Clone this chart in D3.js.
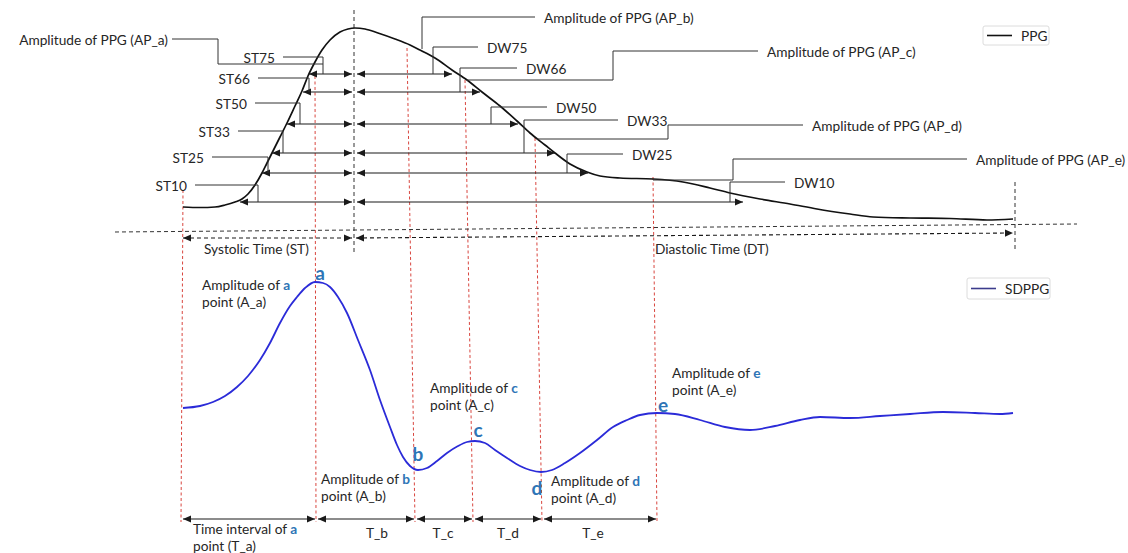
<!DOCTYPE html>
<html><head><meta charset="utf-8">
<script src="https://cdn.jsdelivr.net/npm/d3@7"></script>
<style>
body{margin:0;background:#fff}
svg{display:block}
text{font-family:Lato,"Open Sans",sans-serif;font-size:13.7px;fill:#262626}
</style>
</head><body>
<svg id="c" width="1128" height="553"></svg>
<script>
// ---------- DATA ----------
// PPG waveform (time in s, amplitude in a.u.)
const ppgTime = [0,0.017,0.032,0.042,0.052,0.059,0.065,0.072,0.079,0.084,0.089,0.097,0.104,0.112,0.119,0.125,0.132,0.139,0.147,0.157,0.165,0.172,0.182,0.195,0.212,0.227,0.237,0.252,0.269,0.284,0.299,0.317,0.334,0.347,0.362,0.372,0.387,0.404,0.417,0.437,0.470,0.500,0.527,0.547,0.577,0.607,0.634,0.667,0.690,0.727,0.767,0.804,0.830];
const ppgAmp  = [0.13,0.125,0.13,0.15,0.18,0.21,0.26,0.35,0.47,0.57,0.67,0.83,0.97,1.14,1.29,1.44,1.58,1.70,1.80,1.88,1.91,1.92,1.91,1.87,1.81,1.75,1.70,1.62,1.50,1.40,1.28,1.14,0.99,0.87,0.75,0.67,0.56,0.48,0.44,0.42,0.41,0.38,0.32,0.27,0.21,0.16,0.11,0.06,0.03,0.02,0.015,0.00,0.01];
// Second derivative of PPG (SDPPG)
const sdTime = [0,0.017,0.030,0.042,0.054,0.065,0.077,0.087,0.097,0.107,0.114,0.122,0.132,0.140,0.147,0.155,0.164,0.175,0.187,0.197,0.207,0.214,0.220,0.227,0.235,0.244,0.254,0.264,0.275,0.284,0.292,0.302,0.312,0.324,0.337,0.347,0.358,0.369,0.382,0.397,0.414,0.430,0.444,0.457,0.474,0.492,0.517,0.542,0.567,0.592,0.617,0.637,0.667,0.697,0.727,0.760,0.792,0.817,0.830];
const sdAmp  = [-0.28,-0.26,-0.22,-0.16,-0.07,0.04,0.20,0.37,0.57,0.74,0.83,0.92,0.98,0.97,0.93,0.83,0.67,0.40,0.10,-0.20,-0.47,-0.65,-0.77,-0.86,-0.90,-0.88,-0.81,-0.73,-0.66,-0.62,-0.61,-0.63,-0.70,-0.78,-0.86,-0.90,-0.92,-0.90,-0.83,-0.73,-0.60,-0.47,-0.40,-0.35,-0.33,-0.34,-0.40,-0.47,-0.50,-0.46,-0.40,-0.37,-0.38,-0.36,-0.34,-0.32,-0.33,-0.34,-0.33];
// Width levels
const stLabels = ["ST75","ST66","ST50","ST33","ST25","ST10"];
const dwLabels = ["DW75","DW66","DW50","DW33","DW25","DW10"];
const levelAmp = [1.46,1.28,0.96,0.67,0.47,0.18];
const stStart  = [0.126,0.120,0.104,0.089,0.079,0.057];
const dwEnd    = [0.269,0.297,0.335,0.372,0.405,0.560];
const peakTime = 0.171;
const endTime  = 0.832;
// SDPPG fiducial points
const fidNames = ["a","b","c","d","e"];
const fidTime  = [0.132,0.235,0.292,0.358,0.474];
const fidAmp   = [0.98,-0.90,-0.61,-0.92,-0.33];
const intervalNames = ["T_a","T_b","T_c","T_d","T_e"];
// red guide lines (start + fiducials), top / bottom times
const guideTop    = [0.000,0.132,0.224,0.282,0.352,0.470];
const guideBottom = [-0.002,0.133,0.232,0.290,0.359,0.474];
const guideTopAmp = [0.30,1.44,1.72,1.40,0.82,0.43];
const apNames = ["AP_a","AP_b","AP_c","AP_d","AP_e"];

// ---------- SCALES ----------
const svg = d3.select("#c");
const x  = d3.scaleLinear().domain([0,0.83]).range([183,1013]);
const yP = d3.scaleLinear().domain([0,1.92]).range([220,28]);
const yS = d3.scaleLinear().domain([-1,1]).range([480,280]);

// ---------- HELPERS ----------
const INK = "#1a1a1a";
function head(g,x1,y1,x2,y2){
  const ang=Math.atan2(y2-y1,x2-x1),L=8,W=3.6;
  const bx=x2-L*Math.cos(ang),by=y2-L*Math.sin(ang);
  const px=-Math.sin(ang)*W,py=Math.cos(ang)*W;
  g.append("path").attr("d",`M${x2},${y2}L${bx+px},${by+py}L${bx-px},${by-py}Z`).attr("fill",INK);
}
function arrow(g,x1,y1,x2,y2,dash,h1=true,h2=true){
  g.append("line").attr("x1",x1).attr("y1",y1).attr("x2",x2).attr("y2",y2)
   .attr("stroke",INK).attr("stroke-width",1.1).attr("stroke-dasharray",dash||null);
  if(h1) head(g,x2,y2,x1,y1);
  if(h2) head(g,x1,y1,x2,y2);
}
function poly(g,pts,col){
  g.append("path").attr("d",d3.line()(pts)).attr("fill","none").attr("stroke",col||"#333").attr("stroke-width",1);
}
function txt(g,px,py,s,anchor){
  return g.append("text").attr("x",px).attr("y",py).attr("dominant-baseline","central")
    .attr("text-anchor",anchor||"start").text(s);
}

// ---------- RED GUIDES ----------
const gRed = svg.append("g");
guideTop.forEach((t,i)=>{
  gRed.append("line").attr("x1",x(t)).attr("y1",yP(guideTopAmp[i]))
    .attr("x2",x(guideBottom[i])).attr("y2",yS(-1.42))
    .attr("stroke","#d9463f").attr("stroke-width",1).attr("stroke-dasharray","3,2.5");
});

// ---------- BLACK DASHED FRAME ----------
const gD = svg.append("g");
const dashed = (x1,y1,x2,y2)=>gD.append("line").attr("x1",x1).attr("y1",y1).attr("x2",x2).attr("y2",y2)
  .attr("stroke","#333").attr("stroke-width",1).attr("stroke-dasharray","4,3");
dashed(x(peakTime),yP(2.10),x(peakTime),yP(-0.32));
dashed(x(endTime),yP(0.38),x(endTime),yP(-0.30));
dashed(x(-0.068),yP(-0.12),x(0.894),yP(-0.04));
arrow(gD,x(0),yP(-0.18),x(peakTime)-2,yP(-0.18),"4,3");
arrow(gD,x(peakTime)+2,yP(-0.18),x(endTime)-2,yP(-0.13),"4,3");
txt(gD,x(0.021),yP(-0.28),"Systolic Time (ST)");
txt(gD,x(0.472),yP(-0.28),"Diastolic Time (DT)");

// ---------- CURVES ----------
const ppg = ppgTime.map((t,i)=>({t,a:ppgAmp[i]}));
const sd  = sdTime.map((t,i)=>({t,a:sdAmp[i]}));
svg.append("path").datum(ppg)
  .attr("d",d3.line().x(d=>x(d.t)).y(d=>yP(d.a)).curve(d3.curveMonotoneX))
  .attr("fill","none").attr("stroke","#111").attr("stroke-width",1.7);
svg.append("path").datum(sd)
  .attr("d",d3.line().x(d=>x(d.t)).y(d=>yS(d.a)).curve(d3.curveMonotoneX))
  .attr("fill","none").attr("stroke","#2b2bd8").attr("stroke-width",1.8);

// ---------- ST / DW ARROWS + LEADERS ----------
const gA = svg.append("g");
const stLead = [ // label-line start, drop position, label amplitude
  {s:0.100,d:0.140,a:1.63},{s:0.075,d:0.126,a:1.42},{s:0.072,d:0.117,a:1.17},
  {s:0.055,d:0.100,a:0.89},{s:0.029,d:0.085,a:0.63},{s:0.012,d:0.075,a:0.35}];
const dwLead = [
  {d:0.250,e:0.295,a:1.73},{d:0.277,e:0.334,a:1.52},{d:0.308,e:0.364,a:1.13},
  {d:0.341,e:0.435,a:1.00},{d:0.384,e:0.440,a:0.66},{d:0.547,e:0.602,a:0.38}];
levelAmp.forEach((a,i)=>{
  const yy=yP(a);
  arrow(gA,x(stStart[i]),yy,x(peakTime)-2,yy);
  arrow(gA,x(peakTime)+3,yy,x(dwEnd[i]),yy);
  const S=stLead[i];
  poly(gA,[[x(S.s),yP(S.a)],[x(S.d),yP(S.a)],[x(S.d),yy]]);
  txt(gA,x(S.s)-8,yP(S.a),stLabels[i],"end");
  const D=dwLead[i];
  poly(gA,[[x(D.d),yy],[x(D.d),yP(D.a)],[x(D.e),yP(D.a)]]);
  txt(gA,x(D.e)+9,yP(D.a),dwLabels[i]);
});

// ---------- AMPLITUDE OF PPG LEADERS ----------
const apLead = [
  {pts:[[-0.011,1.81],[0.035,1.81],[0.035,1.56],[0.140,1.56]],side:"end"},
  {pts:[[0.352,2.03],[0.239,2.03],[0.239,1.71]],side:"start"},
  {pts:[[0.575,1.69],[0.430,1.69],[0.430,1.40],[0.284,1.40]],side:"start"},
  {pts:[[0.620,0.95],[0.485,0.95],[0.485,0.81],[0.354,0.81]],side:"start"},
  {pts:[[0.784,0.61],[0.550,0.61],[0.550,0.40],[0.470,0.40]],side:"start"}];
apLead.forEach((L,i)=>{
  poly(gA,L.pts.map(p=>[x(p[0]),yP(p[1])]));
  const p0=L.pts[0];
  if(L.side==="end") txt(gA,x(p0[0])-4,yP(p0[1]),`Amplitude of PPG (${apNames[i]})`,"end");
  else txt(gA,x(p0[0])+9,yP(p0[1]),`Amplitude of PPG (${apNames[i]})`);
});

// ---------- SDPPG ANNOTATIONS ----------
const gS = svg.append("g");
const FID = "#2e75b6";
const letterOff = [[5,-10],[0,-17],[3,-12],[-4,15],[6,-9]];
fidNames.forEach((n,i)=>{
  gS.append("text").attr("x",x(fidTime[i])+letterOff[i][0]).attr("y",yS(fidAmp[i])+letterOff[i][1])
    .attr("dominant-baseline","central").attr("text-anchor","middle")
    .style("font-size","19px").style("font-weight","bold").style("fill",FID).text(n);
});
const ampLab = [{t:0.019,a:0.96},{t:0.138,a:-0.98},{t:0.247,a:-0.07},{t:0.368,a:-1.00},{t:0.489,a:0.08}];
ampLab.forEach((L,i)=>{
  const t1=txt(gS,x(L.t),yS(L.a),"Amplitude of ");
  t1.append("tspan").style("font-weight","bold").style("fill",FID).text(fidNames[i]);
  txt(gS,x(L.t),yS(L.a)+17.5,`point (A_${fidNames[i]})`);
});
// interval arrows
const yT=yS(-1.39);
for(let i=0;i<5;i++){
  const x1=x(guideBottom[i])+2, x2=x(guideBottom[i+1])-1;
  arrow(gS,x1,yT,x2,yT);
}
const ta=txt(gS,x(0.010),yS(-1.48),"Time interval of ");
ta.append("tspan").style("font-weight","bold").style("fill",FID).text("a");
txt(gS,x(0.010),yS(-1.48)+17,"point (T_a)");
const tLabT=[0.194,0.260,0.325,0.410];
tLabT.forEach((t,i)=>txt(gS,x(t),yS(-1.52),intervalNames[i+1],"middle"));

// ---------- LEGENDS ----------
function legend(px,py,w,h,col,label){
  const g=svg.append("g");
  g.append("rect").attr("x",px).attr("y",py).attr("width",w).attr("height",h).attr("rx",2)
   .attr("fill","#fff").attr("stroke","#dcdcdc");
  g.append("line").attr("x1",px+4).attr("x2",px+29).attr("y1",py+h/2).attr("y2",py+h/2)
   .attr("stroke",col).attr("stroke-width",1.6);
  txt(g,px+38,py+h/2,label);
}
legend(983,26,66,19,"#111","PPG");
legend(967,278,83,21,"#3c3c8c","SDPPG");
</script>
</body></html>
